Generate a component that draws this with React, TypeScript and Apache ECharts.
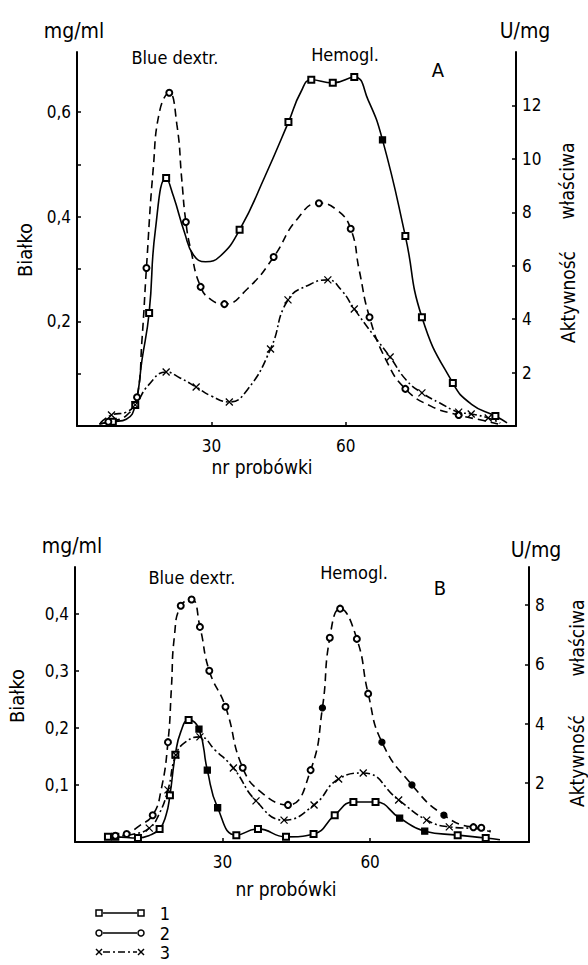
import React, { useEffect, useRef } from "react";
import * as echarts from "echarts";

const FONT = "'DejaVu Sans Condensed', 'DejaVu Sans', sans-serif";

// ---------- Panel A (top) ----------
// series 1 (solid) and 2 (dashed): Białko, mg/ml ; series 3 (dash-dot): U/mg
const a1: [number, number][] = [
  [5, 0.004], [8, 0.008], [11, 0.013], [13, 0.04], [14.5, 0.126], [16.1, 0.216],
  [17.5, 0.375], [19.9, 0.474], [21.5, 0.44], [24, 0.37], [26, 0.327], [28.7, 0.314],
  [32, 0.325], [36.3, 0.375], [42, 0.478], [47.2, 0.581], [50, 0.639], [52.3, 0.662],
  [57.1, 0.656], [61.9, 0.667], [65, 0.623], [68.2, 0.547], [73.3, 0.363], [77, 0.208],
  [83.9, 0.082], [88, 0.042], [93.4, 0.019], [96, 0.006],
];
const a1Marks = [1, 3, 5, 7, 13, 15, 17, 18, 19, 21, 22, 23, 24, 26];
const a1Filled = [21];

const a2: [number, number][] = [
  [5, 0.004], [7, 0.008], [11, 0.02], [13.4, 0.055], [14.5, 0.164], [15.5, 0.302],
  [17, 0.49], [18.5, 0.604], [20.6, 0.637], [22.3, 0.576], [23.4, 0.47], [24.3, 0.39],
  [25.4, 0.337], [27.6, 0.266], [30, 0.241], [32.9, 0.233], [38, 0.262], [43.9, 0.323],
  [49, 0.394], [54, 0.426], [58, 0.413], [61.1, 0.377], [63, 0.298], [65.3, 0.208],
  [69, 0.126], [73.3, 0.071], [79, 0.038], [85.2, 0.021], [91, 0.01], [94, 0.004],
];
const a2Marks = [1, 3, 5, 8, 11, 13, 15, 17, 19, 21, 23, 25, 27];
const a2Filled: number[] = [];

const a3: [number, number][] = [
  [5.2, 0.11], [7.7, 0.41], [11, 0.52], [13, 0.79], [16, 1.54], [19.9, 2.02],
  [23, 1.8], [26.6, 1.46], [30, 1.12], [34, 0.9], [38, 1.35], [43.2, 2.88],
  [47.1, 4.72], [52, 5.3], [56, 5.47], [59, 5.09], [61.9, 4.38], [66, 3.44],
  [69.9, 2.58], [73.5, 1.72], [77, 1.24], [81, 0.86], [85.2, 0.52], [88, 0.45],
  [91.8, 0.3], [94.5, 0.11],
];
const a3Marks = [1, 3, 5, 7, 9, 11, 12, 14, 16, 18, 20, 22, 23, 24];

// ---------- Panel B (bottom) ----------
const b1: [number, number][] = [
  [6.7, 0.009], [8.2, 0.009], [12.8, 0.007], [15, 0.011], [17.2, 0.023], [18.5, 0.047],
  [19.3, 0.082], [20.4, 0.153], [21.5, 0.193], [23.1, 0.214], [25.2, 0.198], [26.9, 0.126],
  [29, 0.06], [32.8, 0.012], [37.2, 0.023], [42.9, 0.009], [48.5, 0.014], [52.8, 0.047],
  [56.6, 0.07], [61.1, 0.07], [66, 0.042], [71.1, 0.019], [77.8, 0.012], [83.5, 0.007],
  [86.4, 0.004],
];
const b1Marks = [0, 1, 2, 4, 6, 7, 9, 10, 11, 12, 13, 14, 15, 16, 17, 18, 19, 20, 21, 22, 23];
const b1Filled = [10, 11, 12, 20, 21];

const b2: [number, number][] = [
  [7.1, 0.009], [8.2, 0.011], [10.5, 0.014], [13, 0.028], [15.8, 0.047], [17.5, 0.091],
  [18.9, 0.175], [19.6, 0.27], [20.2, 0.36], [21.5, 0.414], [23.7, 0.425], [25.4, 0.377],
  [27.3, 0.3], [30.6, 0.237], [34.1, 0.13], [38, 0.086], [43.3, 0.065], [47.9, 0.126],
  [50.3, 0.235], [51.8, 0.358], [53.9, 0.409], [57.3, 0.356], [59.6, 0.26], [62.4, 0.175],
  [68.5, 0.1], [75, 0.047], [81, 0.026], [82.6, 0.025], [84.5, 0.019],
];
const b2Marks = [1, 2, 4, 6, 9, 10, 11, 12, 13, 14, 16, 17, 18, 19, 20, 21, 22, 23, 24, 25, 26, 27];
const b2Filled = [18, 23, 24, 25];

const b3: [number, number][] = [
  [7.4, 0.17], [12, 0.27], [15.1, 0.47], [17, 0.91], [18.9, 1.76], [20.5, 2.94],
  [22.5, 3.38], [25.4, 3.55], [28.5, 3.1], [32.2, 2.5], [36.8, 1.39], [42.5, 0.74],
  [48.6, 1.25], [53.6, 2.13], [58.6, 2.33], [65.8, 1.42], [71.5, 0.74], [76.1, 0.51],
  [82.2, 0.44], [84.5, 0.34],
];
const b3Marks = [2, 4, 5, 7, 9, 10, 11, 12, 13, 14, 15, 16, 17];

const xTickLabels = [30, 60];
const aLeftTicks = [0.1, 0.2, 0.3, 0.4, 0.5, 0.6];
const aLeftLabels = [0.2, 0.4, 0.6];
const aRightTicks = [2, 4, 6, 8, 10, 12];
const bLeftTicks = [0.1, 0.2, 0.3, 0.4];
const bRightTicks = [2, 4, 6, 8];
const legendNames = ["1", "2", "3"];

const CROSS = "path://M0,0L10,10M10,0L0,10";

function items(
  data: [number, number][],
  marks: number[],
  filled: number[],
  emptySym: string,
  fullSym: string
) {
  return data.map(([x, y], i) => {
    if (!marks.includes(i)) return { value: [x, y], symbol: "none" };
    if (filled.includes(i)) return { value: [x, y], symbol: fullSym, itemStyle: { color: "#000" } };
    return { value: [x, y], symbol: emptySym };
  });
}

function lineSeries(name: string, data: any[], xi: number, yi: number, dash: any, sym: number) {
  return {
    name,
    type: "line",
    xAxisIndex: xi,
    yAxisIndex: yi,
    data,
    smooth: 0.5,
    symbolSize: sym,
    showAllSymbol: true,
    lineStyle: { color: "#000", width: 1.6, type: dash },
    itemStyle: { color: "#000", borderColor: "#000", borderWidth: 1.3 },
    z: 3,
  };
}

const txt = (text: string, x: number, y: number, size: number, rot = 0) => ({
  type: "text",
  x,
  y,
  rotation: rot,
  style: {
    text,
    fill: "#000",
    fontSize: size,
    fontFamily: FONT,
    align: "center",
    verticalAlign: "middle",
    textAlign: "center",
    textVerticalAlign: "middle",
  },
});

function legendRow(i: number, y: number) {
  const els: any[] = [];
  const dash = i === 2 ? [7, 3, 2, 3] : null;
  els.push({
    type: "line",
    shape: { x1: 103, y1: y, x2: 137, y2: y },
    style: { stroke: "#000", lineWidth: 1.6, lineDash: dash },
  });
  [99, 141].forEach((cx) => {
    if (i === 0) {
      els.push({ type: "rect", shape: { x: cx - 3, y: y - 3, width: 6, height: 6 }, style: { fill: "#fff", stroke: "#000", lineWidth: 1.5 } });
    } else if (i === 1) {
      els.push({ type: "circle", shape: { cx, cy: y, r: 3 }, style: { fill: "#fff", stroke: "#000", lineWidth: 1.5 } });
    } else {
      els.push({ type: "line", shape: { x1: cx - 3, y1: y - 3, x2: cx + 3, y2: y + 3 }, style: { stroke: "#000", lineWidth: 1.4 } });
      els.push({ type: "line", shape: { x1: cx - 3, y1: y + 3, x2: cx + 3, y2: y - 3 }, style: { stroke: "#000", lineWidth: 1.4 } });
    }
  });
  els.push(txt(legendNames[i], 165, y, 18));
  return els;
}

const axisLineStyle = { show: true, lineStyle: { color: "#000", width: 2 } };
const labelStyle = { color: "#000", fontSize: 17, fontFamily: FONT };

function xAxis(grid: number, max: number) {
  return {
    type: "value",
    gridIndex: grid,
    min: 0,
    max,
    axisLine: axisLineStyle,
    axisTick: { show: true, inside: true, length: 4, customValues: xTickLabels, lineStyle: { color: "#000", width: 1.5 } },
    axisLabel: { ...labelStyle, margin: 11, customValues: xTickLabels, formatter: (v: number) => String(v) },
    splitLine: { show: false },
  };
}

function yAxis(grid: number, pos: string, max: number, ticks: number[], labels: number[], dec: boolean) {
  return {
    type: "value",
    gridIndex: grid,
    position: pos,
    min: 0,
    max,
    axisLine: axisLineStyle,
    axisTick: { show: true, inside: true, length: 4, customValues: ticks, lineStyle: { color: "#000", width: 1.5 } },
    axisLabel: {
      ...labelStyle,
      margin: 6,
      customValues: labels,
      formatter: (v: number) => (dec ? v.toFixed(1).replace(".", ",") : String(v)),
    },
    splitLine: { show: false },
  };
}

export default function App() {
  const ref = useRef<HTMLDivElement>(null);
  useEffect(() => {
    if (!ref.current) return;
    const chart = echarts.init(ref.current, null, { renderer: "svg" });
    const graphics: any[] = [
      txt("mg/ml", 74, 31, 21),
      txt("U/mg", 525, 31, 21),
      txt("Blue dextr.", 175, 57, 18),
      txt("Hemogl.", 345, 54, 18),
      txt("A", 438, 70, 20),
      txt("Białko", 25, 250, 20, Math.PI / 2),
      txt("Aktywność", 568, 297, 19, Math.PI / 2),
      txt("właściwa", 567, 181, 19, Math.PI / 2),
      txt("nr probówki", 262, 467, 19),
      txt("mg/ml", 72, 546, 21),
      txt("U/mg", 536, 550, 21),
      txt("Blue dextr.", 192, 577, 18),
      txt("Hemogl.", 354, 572, 18),
      txt("B", 440, 588, 20),
      txt("Białko", 17, 696, 20, Math.PI / 2),
      txt("Aktywność", 577, 761, 19, Math.PI / 2),
      txt("właściwa", 577, 638, 19, Math.PI / 2),
      txt("nr probówki", 286, 889, 19),
      ...legendRow(0, 913),
      ...legendRow(1, 933),
      ...legendRow(2, 952),
    ];
    chart.setOption({
      animation: false,
      backgroundColor: "#fff",
      grid: [
        { left: 77, right: 72, top: 52, height: 374 },
        { left: 75, right: 59, top: 567, height: 275 },
      ],
      xAxis: [xAxis(0, 98), xAxis(1, 92.3)],
      yAxis: [
        yAxis(0, "left", 0.715, aLeftTicks, aLeftLabels, true),
        yAxis(0, "right", 14, aRightTicks, aRightTicks, false),
        yAxis(1, "left", 0.482, bLeftTicks, bLeftTicks, true),
        yAxis(1, "right", 9.29, bRightTicks, bRightTicks, false),
      ],
      series: [
        lineSeries("1", items(a1, a1Marks, a1Filled, "emptyRect", "rect"), 0, 0, "solid", 6),
        lineSeries("2", items(a2, a2Marks, a2Filled, "emptyCircle", "circle"), 0, 0, [8, 5], 6),
        lineSeries("3", items(a3, a3Marks, [], CROSS, CROSS), 0, 1, [8, 3, 2, 3], 7),
        lineSeries("1", items(b1, b1Marks, b1Filled, "emptyRect", "rect"), 1, 2, "solid", 6),
        lineSeries("2", items(b2, b2Marks, b2Filled, "emptyCircle", "circle"), 1, 2, [8, 5], 6),
        lineSeries("3", items(b3, b3Marks, [], CROSS, CROSS), 1, 3, [8, 3, 2, 3], 7),
      ],
      graphic: graphics,
    });
    return () => chart.dispose();
  }, []);
  return <div ref={ref} style={{ position: "absolute", left: 0, top: 0, width: 588, height: 965 }} />;
}
